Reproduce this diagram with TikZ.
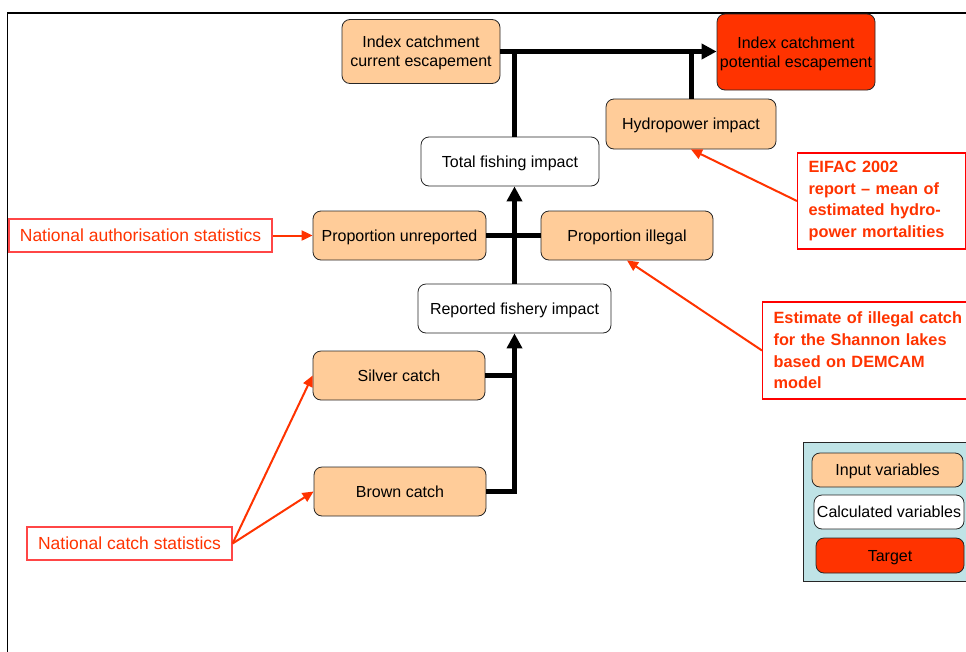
\documentclass[tikz,border=0pt]{standalone}
\usepackage{fontspec}
\setmainfont{Liberation Sans}
\usetikzlibrary{arrows.meta}
\definecolor{peach}{RGB}{255,204,153}
\definecolor{targetred}{RGB}{255,51,0}
\definecolor{annot}{RGB}{255,51,0}
\definecolor{srcborder}{RGB}{255,70,70}
\definecolor{legbg}{RGB}{191,227,230}
\begin{document}
\begin{tikzpicture}[x=1pt,y=-1pt,
 var/.style={draw=black!85, line width=0.8pt, rounded corners=8pt, align=center, inner sep=0pt, text depth=0pt, font=\fontsize{16}{19}\selectfont},
 inputvar/.style={var, fill=peach},
 calcvar/.style={var, fill=white},
 targetvar/.style={var, fill=targetred},
 flow/.style={line width=5pt, -{Triangle[length=15pt,width=15pt]}},
 flowline/.style={line width=5pt},
 srcbox/.style={draw=srcborder, line width=1.2pt, text=annot, inner sep=0pt, text depth=0pt, font=\fontsize{17.5}{21}\selectfont},
 notebox/.style={draw=red, line width=1.2pt, text=annot, anchor=west, align=left, inner xsep=11pt, inner ysep=0pt, font=\bfseries\fontsize{16.3}{21.7}\selectfont},
 refarrow/.style={draw=annot, line width=2pt, -{Triangle[length=11pt,width=10pt]}}
]
\path[use as bounding box, clip] (0,0) rectangle (966,651);
\fill[white] (0,0) rectangle (966,651);
% frame
\draw[line width=2pt] (7,13) -- (970,13);
\draw[line width=1pt] (7,13) -- (7,655);

% variables
\node[inputvar, minimum width=158, minimum height=64] (cur) at (421,51.5) {Index catchment\\current escapement};
\node[targetvar, minimum width=158, minimum height=76] (pot) at (796,52) {Index catchment\\potential escapement};
\node[inputvar, minimum width=170, minimum height=50] (hydro) at (691,124) {Hydropower impact};
\node[calcvar, minimum width=178, minimum height=49] (tot) at (510,161.5) {Total fishing impact};
\node[inputvar, minimum width=173, minimum height=49] (unrep) at (399.5,235.5) {Proportion unreported};
\node[inputvar, minimum width=172, minimum height=49] (illeg) at (627,235.5) {Proportion illegal};
\node[calcvar, minimum width=193, minimum height=49] (rep) at (514.5,308.5) {Reported fishery impact};
\node[inputvar, minimum width=172, minimum height=49] (silver) at (399,375.5) {Silver catch};
\node[inputvar, minimum width=172, minimum height=49] (brown) at (400,491.5) {Brown catch};

% sources
\node[srcbox, minimum width=263, minimum height=33] (nauth) at (140.5,235.5) {National authorisation statistics};
\node[srcbox, minimum width=205, minimum height=33] (ncatch) at (129.5,543.5) {National catch statistics};
\node[notebox, text width=146pt, minimum height=96] (eifac) at (797,201) {EIFAC 2002\\report -- mean of\\estimated hydro-\\power mortalities};
\node[notebox, inner xsep=11pt, text width=194pt, minimum height=97] (est) at (762,350.5) {Estimate of illegal catch\\for the Shannon lakes\\based on DEMCAM\\model};

% legend
\node[draw=black!85, line width=0.8pt, fill=legbg, minimum width=172, minimum height=139, inner sep=0pt] (legend) at (889,511.5) {};
\node[inputvar, minimum width=151, minimum height=34] (leginput) at (887.5,470) {Input variables};
\node[calcvar, minimum width=150, minimum height=34] (legcalc) at (889,512) {Calculated variables};
\node[targetvar, minimum width=148, minimum height=35] (legtarget) at (890,555.5) {Target};

% black flow connectors
\draw[flow] (cur.east) -- (cur.east -| pot.west);
\draw[flowline] (rep.north |- tot.north) -- (rep.north |- cur.east);
\draw[flowline] (hydro.north) -- (hydro.north |- cur.east);
\draw[flow] (rep.north) -- (rep.north |- tot.south);
\draw[flowline] (unrep.east) -- (illeg.west);
\draw[flowline] (silver.east) -- (silver.east -| rep.south);
\draw[flow, line join=miter] (brown.east) -- (brown.east -| rep.south) -- (rep.south);

% red reference arrows
\draw[refarrow] (nauth.east) -- (unrep.west);
\draw[refarrow] (ncatch.east) -- (silver.west);
\draw[refarrow] (ncatch.east) -- (brown.west);
\draw[refarrow] (eifac.west) -- (hydro.south);
\draw[refarrow] (est.west) -- (illeg.south);
\end{tikzpicture}
\end{document}
